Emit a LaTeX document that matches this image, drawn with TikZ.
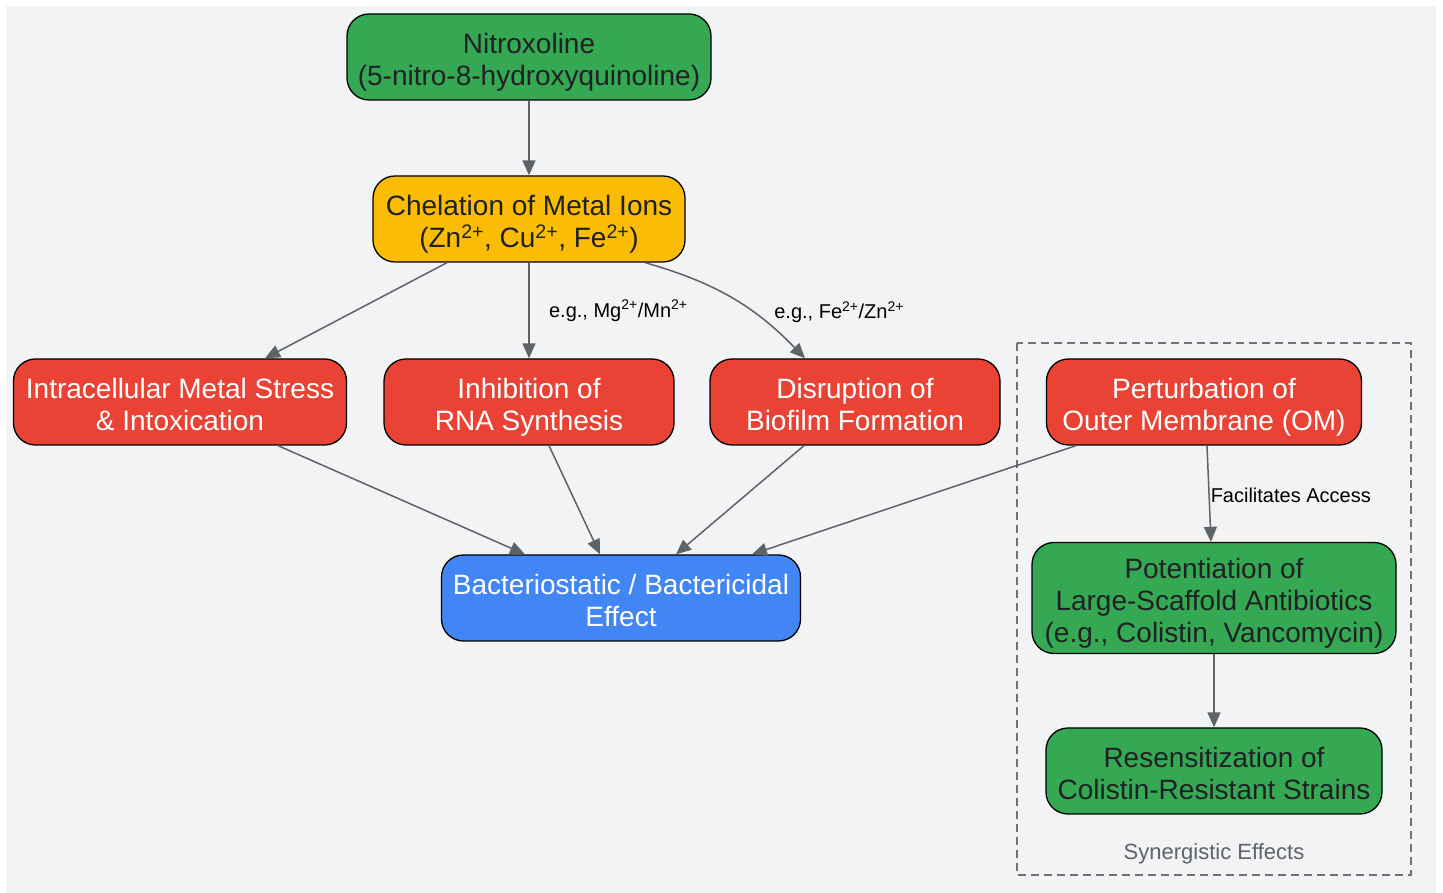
\documentclass[tikz,border=0pt]{standalone}
\usepackage{fontspec}
\setmainfont{Liberation Sans}
\usepackage{xcolor}
\usepackage{tikz}
\usetikzlibrary{shapes,arrows.meta}
\definecolor{paper}{HTML}{F1F3F4}
\definecolor{ink}{HTML}{202124}
\definecolor{edge}{HTML}{5F6368}
\definecolor{gGreen}{HTML}{34A853}
\definecolor{gYellow}{HTML}{FBBC05}
\definecolor{gRed}{HTML}{EA4335}
\definecolor{gBlue}{HTML}{4285F4}
\newcommand{\lift}{\rule{0pt}{31pt}}
\newcommand{\sink}{\rule[-6pt]{0pt}{6pt}}

\begin{document}
\begin{tikzpicture}[x=1pt, y=1pt, node distance=183pt, auto, font=\fontsize{28}{32}\selectfont]
	\tikzstyle{block} = [rectangle, draw=black, line width=1.3pt, rounded corners=22pt,
	align=center, minimum height=86pt, inner sep=2pt]
	\tikzstyle{greenblock} = [block, fill=gGreen, text=ink]
	\tikzstyle{yellowblock} = [block, fill=gYellow, text=ink]
	\tikzstyle{redblock} = [block, fill=gRed, text=white]
	\tikzstyle{blueblock} = [block, fill=gBlue, text=white]
	\tikzstyle{line} = [draw=edge, -{Triangle[length=15pt,width=13pt]}, line width=1.5pt]
	\tikzstyle{tag} = [font=\fontsize{20}{24}\selectfont, text=black]
	\tikzstyle{frame} = [draw=edge!90, dashed, dash pattern=on 8pt off 5pt, line width=1.5pt]
	% Canvas
	\useasboundingbox (0,0) rectangle (1443,893);
	\fill [paper] (6,0) rectangle (1436,887);
	\draw [frame] (1017,550) rectangle (1411,18);
	\node [font=\fontsize{22}{26}\selectfont, text=edge] (synergy) at (1214,39) {Synergistic Effects};
	% Place nodes
	\node [greenblock, minimum width=364pt] (nitroxoline) at (529,836) {\lift Nitroxoline\\(5-nitro-8-hydroxyquinoline)\sink};
	\node [yellowblock, minimum width=312pt, node distance=162pt, below of=nitroxoline] (chelation)
	{\lift Chelation of Metal Ions\\(Zn\textsuperscript{2+}, Cu\textsuperscript{2+}, Fe\textsuperscript{2+})\sink};
	\node [redblock, minimum width=290pt, below of=chelation] (rna) {\lift Inhibition of\\RNA Synthesis\sink};
	\node [redblock, minimum width=333pt, below of=chelation, xshift=-349pt] (metalstress) {\lift Intracellular Metal Stress\\\& Intoxication\sink};
	\node [redblock, minimum width=290pt, below of=chelation, xshift=326pt] (biofilm) {\lift Disruption of\\Biofilm Formation\sink};
	\node [redblock, minimum width=315pt, below of=chelation, xshift=675pt] (membrane) {\lift Perturbation of\\Outer Membrane (OM)\sink};
	\node [blueblock, minimum width=359pt, node distance=196pt, below of=rna, xshift=92pt] (effect) {\lift Bacteriostatic / Bactericidal\\Effect\sink};
	\node [greenblock, minimum width=364pt, minimum height=111pt, node distance=196pt, below of=membrane, xshift=10pt] (potentiation)
	{\lift Potentiation of\\Large-Scaffold Antibiotics\\(e.g., Colistin, Vancomycin)\sink};
	\node [greenblock, minimum width=336pt, node distance=173pt, below of=potentiation] (resensitization) {\lift Resensitization of\\Colistin-Resistant Strains\sink};
	% Draw edges
	\path [line] (nitroxoline) -- (chelation);
	\path [line] ([xshift=-82pt]chelation.south) -- ([xshift=85pt]metalstress.north);
	\path [line] (chelation) -- node [tag, anchor=west, xshift=16pt] {e.g., Mg\textsuperscript{2+}/Mn\textsuperscript{2+}} (rna);
	\path [line] ([xshift=116pt]chelation.south) to [bend left=15]
	node [tag, anchor=west, xshift=38pt, yshift=-14pt] {e.g., Fe\textsuperscript{2+}/Zn\textsuperscript{2+}} ([xshift=-50pt]biofilm.north);
	\path [line] ([xshift=98pt]metalstress.south) -- ([xshift=-96pt]effect.north);
	\path [line] ([xshift=20pt]rna.south) -- ([xshift=-21pt]effect.north);
	\path [line] ([xshift=-51pt]biofilm.south) -- ([xshift=55pt]effect.north);
	\path [line] ([xshift=-128pt]membrane.south) -- ([xshift=131pt]effect.north);
	\path [line] ([xshift=3pt]membrane.south) -- node [tag, anchor=west, inner sep=1pt, yshift=-2pt] {Facilitates Access} ([xshift=-3pt]potentiation.north);
	\path [line] (potentiation) -- (resensitization);
\end{tikzpicture}
\end{document}
